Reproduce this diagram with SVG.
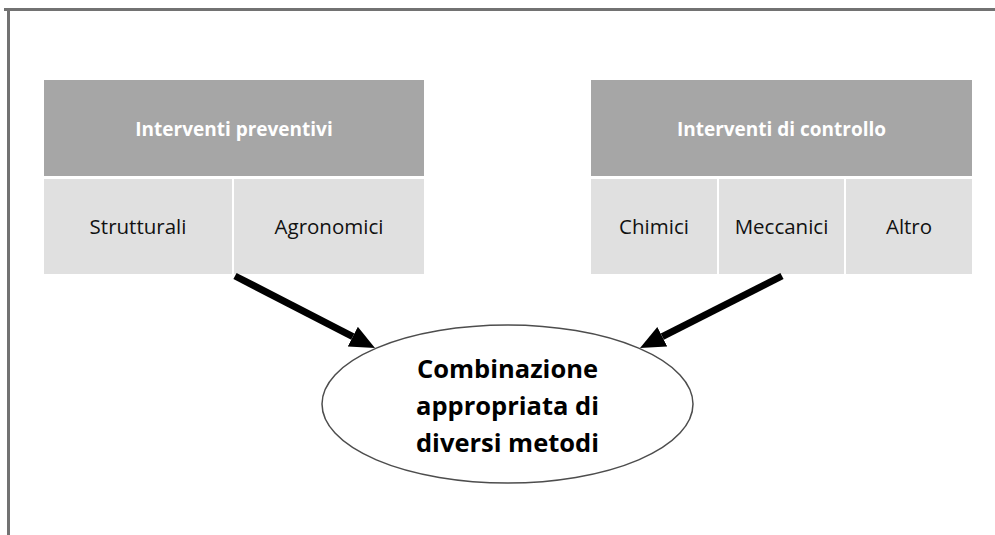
<svg xmlns="http://www.w3.org/2000/svg" width="995" height="535" viewBox="0 0 995 535">
<style>
.hdr{fill:#a6a6a6}
.cell{fill:#e0e0e0}
.ht{font-family:"Open Sans","Liberation Sans",sans-serif;font-weight:bold;font-size:19px;fill:#ffffff;text-anchor:middle}
.ct{font-family:"Open Sans","Liberation Sans",sans-serif;font-size:20.5px;fill:#111111;text-anchor:middle}
.et{font-family:"Open Sans","Liberation Sans",sans-serif;font-weight:bold;font-size:25.5px;fill:#000000;text-anchor:middle}
.frame{stroke:#727272;stroke-width:3;fill:none}
.arr{stroke:#000;stroke-width:7;fill:none}
</style>
<defs>
<marker id="head" markerUnits="userSpaceOnUse" markerWidth="26" markerHeight="24" refX="0" refY="11" orient="auto">
<path d="M0,0 L25,11 L0,22 Z" fill="#000"/>
</marker>
</defs>
<rect width="995" height="535" fill="#ffffff"/>
<g id="frame">
<line class="frame" x1="4" y1="9.5" x2="995" y2="9.5"/>
<line class="frame" x1="8.5" y1="8" x2="8.5" y2="535"/>
</g>
<g id="preventivi">
<rect class="hdr" x="44" y="80" width="380" height="96"/>
<text class="ht" x="234" y="136">Interventi preventivi</text>
</g>
<g id="strutturali">
<rect class="cell" x="44" y="179" width="188" height="95"/>
<text class="ct" x="138" y="234">Strutturali</text>
</g>
<g id="agronomici">
<rect class="cell" x="234" y="179" width="190" height="95"/>
<text class="ct" x="329" y="234">Agronomici</text>
</g>
<g id="controllo">
<rect class="hdr" x="591" y="80" width="381" height="96"/>
<text class="ht" x="781.5" y="136">Interventi di controllo</text>
</g>
<g id="chimici">
<rect class="cell" x="591" y="179" width="126" height="95"/>
<text class="ct" x="654" y="234">Chimici</text>
</g>
<g id="meccanici">
<rect class="cell" x="719" y="179" width="125" height="95"/>
<text class="ct" x="781.5" y="234">Meccanici</text>
</g>
<g id="altro">
<rect class="cell" x="846" y="179" width="126" height="95"/>
<text class="ct" x="909" y="234">Altro</text>
</g>
<g id="combinazione">
<ellipse cx="507.5" cy="404" rx="185.5" ry="79" fill="#ffffff" stroke="#4d4d4d" stroke-width="1.5"/>
<text class="et" x="507.5" y="378">Combinazione</text>
<text class="et" x="507.5" y="415">appropriata di</text>
<text class="et" x="507.5" y="452">diversi metodi</text>
</g>
<g id="connectors">
<line class="arr" x1="235" y1="276" x2="352.8" y2="336.6" marker-end="url(#head)"/>
<line class="arr" x1="782" y1="276" x2="662.3" y2="336.7" marker-end="url(#head)"/>
</g>
</svg>
